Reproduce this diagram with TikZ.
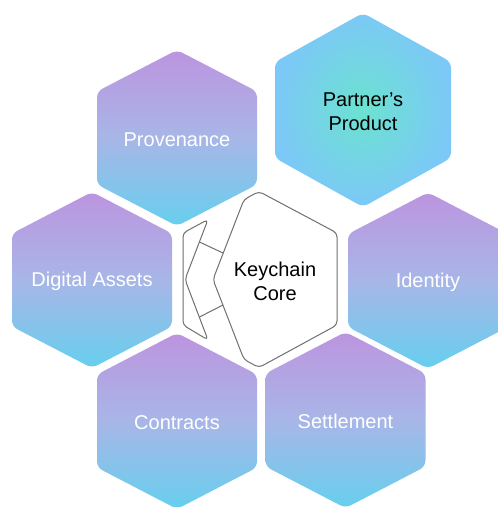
\documentclass[tikz,border=0pt]{standalone}
\usepackage{fontspec}
\setmainfont{Liberation Sans}
\definecolor{hextop}{RGB}{188,148,223}
\definecolor{hexmid}{RGB}{168,182,231}
\definecolor{hexbot}{RGB}{102,207,238}
\definecolor{pinner}{RGB}{108,226,208}
\definecolor{pouter}{RGB}{124,200,247}
\definecolor{coreline}{RGB}{112,112,112}
\pgfdeclareverticalshading{hexgrad}{100bp}{color(0bp)=(hexbot); color(25bp)=(hexbot); color(50bp)=(hexmid); color(75bp)=(hextop); color(100bp)=(hextop)}
\newcommand\hexat[5]{% cx cy halfwidth vertex edge
  ({#1},{#2-#4}) -- ({#1+#3},{#2-#5}) -- ({#1+#3},{#2+#5}) -- ({#1},{#2+#4}) -- ({#1-#3},{#2+#5}) -- ({#1-#3},{#2-#5}) -- cycle}
\tikzset{
  gradhex/.style={shading=hexgrad, rounded corners=6pt},
  parthex/.style={inner color=pinner, outer color=pouter, rounded corners=6pt},
  whitelabel/.style={text=white, font=\fontsize{20}{24}\selectfont, align=center, inner sep=0pt},
  blacklabel/.style={text=black, font=\fontsize{20}{24}\selectfont, align=center, inner sep=0pt},
  coreedge/.style={draw=coreline, line width=1pt, rounded corners=4pt, line join=round},
  coretie/.style={draw=coreline, line width=1pt}
}
\begin{document}
\begin{tikzpicture}[x=1pt,y=-1pt]
\useasboundingbox (0,0) rectangle (498,507);
\clip (0,0) rectangle (498,507);
\fill[white] (0,0) rectangle (498,507);
% hexagons
\path[gradhex] \hexat{177}{138}{80}{88}{46.5};
\path[gradhex] \hexat{92}{280}{80}{88}{46.5};
\path[gradhex] \hexat{428}{280.5}{80}{88}{46.5};
\path[gradhex] \hexat{177}{421}{80}{88}{46.5};
\path[gradhex] \hexat{345.5}{420}{80}{88}{46.5};
\path[parthex] \hexat{363}{110}{88}{97}{48};
% Keychain core
\path[coreedge] (244,199.5) -- (259,191.5) -- (337,233) -- (337,325) -- (259,367.5) -- (244,359.5) -- (213,279.5) -- cycle;
\path[coreedge] (208,219.5) -- (183,233) -- (183,325) -- (208,340) -- (185,279.5) -- cycle;
\coordinate (tieAa) at (199.5,242);
\coordinate (tieAb) at (223,253);
\coordinate (tieBa) at (199.5,317);
\coordinate (tieBb) at (223,305);
\draw[coretie] (tieAa) -- (tieAb);
\draw[coretie] (tieBa) -- (tieBb);
% labels
\node[whitelabel] (prov) at (177,139.5) {Provenance};
\node[whitelabel] (dig) at (92,281.5) {Digital Assets};
\node[whitelabel] (ident) at (428,282) {Identity};
\node[whitelabel] (contr) at (177,422.5) {Contracts};
\node[whitelabel] (settl) at (345.5,421.5) {Settlement};
\node[blacklabel] (partner) at (363,112) {Partner’s\\Product};
\node[blacklabel] (core) at (275,281.5) {Keychain\\Core};
\end{tikzpicture}
\end{document}
